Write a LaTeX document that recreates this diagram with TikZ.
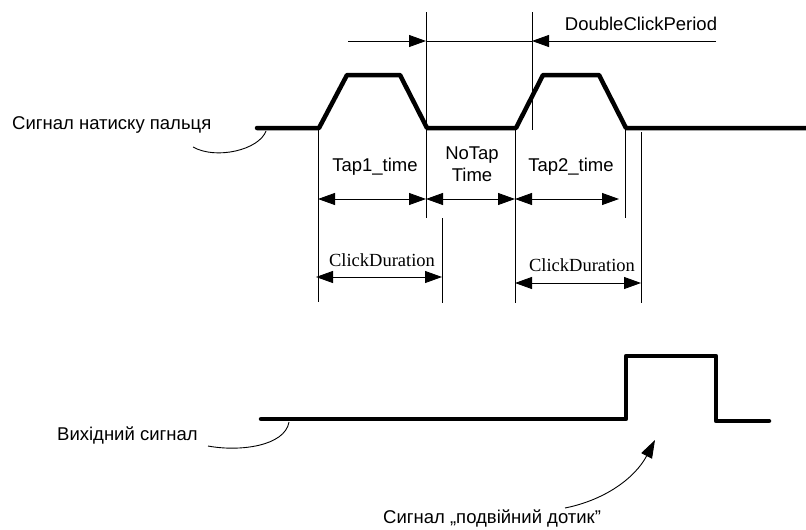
\documentclass[tikz,border=0pt]{standalone}
\usepackage{fontspec}
\setmainfont{Liberation Sans}
\newfontfamily\cdserif{Liberation Serif}
\usetikzlibrary{arrows.meta}
\begin{document}
\begin{tikzpicture}[x=1pt,y=-1pt,
  sig/.style={line width=4.5pt, line cap=round, line join=round},
  guide/.style={line width=0.9pt},
  tip/.style={Triangle[length=17pt,width=12pt]},
  dim/.style={guide, {Triangle[length=17pt,width=12pt]}-{Triangle[length=17pt,width=12pt]}},
  lbl/.style={font=\fontsize{18.5}{21}\selectfont, inner sep=0pt},
  slbl/.style={font=\cdserif\fontsize{18.5}{21}\selectfont, inner sep=0pt},
  leader/.style={line width=0.9pt}]
\useasboundingbox (0,0) rectangle (806,530);

% input signal
\coordinate (s0) at (257,128);
\coordinate (s1) at (319,128);
\coordinate (s2) at (347,75);
\coordinate (s3) at (400,75);
\coordinate (s4) at (427,128);
\coordinate (s5) at (516,128);
\coordinate (s6) at (543,75);
\coordinate (s7) at (599,75);
\coordinate (s8) at (626,128);
\coordinate (s9) at (810,128);
\draw[sig] (s0) -- (s1) -- (s2) -- (s3) -- (s4) -- (s5) -- (s6) -- (s7) -- (s8) -- (s9);

% output signal
\coordinate (o0) at (261,419);
\coordinate (o1) at (626,419);
\coordinate (o2) at (626,356);
\coordinate (o3) at (716,356);
\coordinate (o4) at (716,421);
\coordinate (o5) at (769,421);
\draw[sig] (o0) -- (o1) -- (o2) -- (o3) -- (o4) -- (o5);

% guide verticals
\coordinate (v1a) at (318,128); \coordinate (v1b) at (318,302);
\coordinate (v2a) at (426,12);  \coordinate (v2b) at (426,218);
\coordinate (v3a) at (442,218); \coordinate (v3b) at (442,303);
\coordinate (v4a) at (515,128); \coordinate (v4b) at (515,303);
\coordinate (v5a) at (532,12);  \coordinate (v5b) at (532,130);
\coordinate (v6a) at (625,128); \coordinate (v6b) at (625,218);
\coordinate (v7a) at (641,132); \coordinate (v7b) at (641,303);
\foreach \v in {v1,v2,v3,v4,v5,v6,v7} \draw[guide] (\v a) -- (\v b);

% DoubleClickPeriod
\coordinate (d0) at (348,41);
\coordinate (d1) at (426,41);
\coordinate (d2) at (532,41);
\coordinate (d3) at (716,41);
\draw[guide,-{Triangle[length=17pt,width=12pt]}] (d0) -- (d1);
\draw[guide] (d1) -- (d2);
\draw[guide,-{Triangle[length=17pt,width=12pt]}] (d3) -- (d2);
\node[lbl, anchor=base] (dcp) at (641,30) {DoubleClickPeriod};

% dimension arrows
\coordinate (t1a) at (318,199); \coordinate (t1b) at (426,199);
\coordinate (t2a) at (426,199); \coordinate (t2b) at (515,199);
\coordinate (t3a) at (515,199); \coordinate (t3b) at (619,199);
\draw[dim] (t1a) -- (t1b);
\draw[dim] (t2a) -- (t2b);
\draw[dim] (t3a) -- (t3b);
\coordinate (c1a) at (316,277); \coordinate (c1b) at (442,277);
\coordinate (c2a) at (515,283); \coordinate (c2b) at (641,283);
\draw[dim] (c1a) -- (c1b);
\draw[dim] (c2a) -- (c2b);

\node[lbl, anchor=base] (tap1) at (375,171) {Tap1\_time};
\node[lbl, anchor=base] (notap) at (472,159) {NoTap};
\node[lbl, anchor=base] (notime) at (472,181) {Time};
\node[lbl, anchor=base] (tap2) at (571,171) {Tap2\_time};
\node[slbl, anchor=base] (cd1) at (382,266) {ClickDuration};
\node[slbl, anchor=base] (cd2) at (582,271) {ClickDuration};

% side labels
\node[lbl, anchor=base west] (inlbl) at (12,129) {Сигнал натиску пальця};
\node[lbl, anchor=base west] (outlbl) at (57,440) {Вихідний сигнал};
\node[lbl, anchor=base west] (dbl) at (383,523) {Сигнал „подвійний дотик”};

% leaders
\coordinate (l1a) at (266,131); \coordinate (l1b) at (193,147);
\draw[leader] (l1a) .. controls (259,150) and (216,160) .. (l1b);
\coordinate (l2a) at (289,422); \coordinate (l2b) at (208,446);
\draw[leader] (l2a) .. controls (285,446) and (240,452) .. (l2b);
\coordinate (l3a) at (565,508); \coordinate (l3b) at (655,440);
\draw[leader,-{Triangle[length=18pt,width=12pt]}] (l3a) .. controls (605,500) and (635,478) .. (l3b);
\end{tikzpicture}
\end{document}
